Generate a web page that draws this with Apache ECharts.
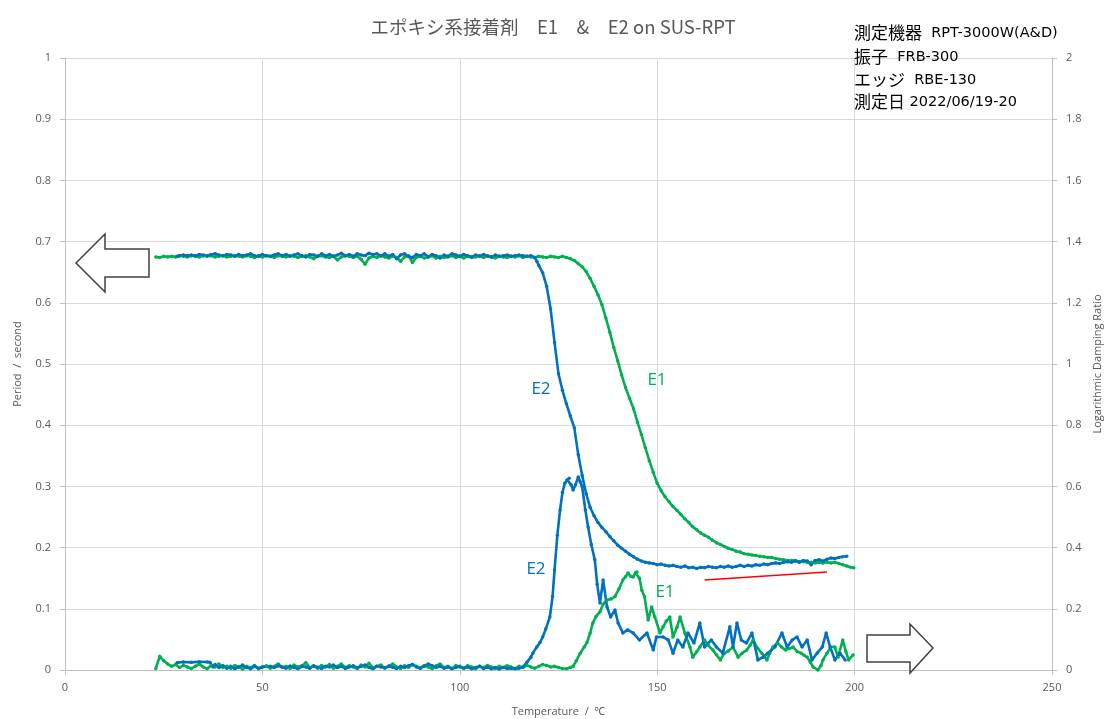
<!DOCTYPE html>
<html>
<head>
<meta charset="utf-8">
<script src="https://cdn.jsdelivr.net/npm/echarts@6/dist/echarts.min.js"></script>
<style>
  html, body { margin: 0; padding: 0; background: #ffffff; overflow: hidden; width: 100%; height: 100%; }
  #chart { position: absolute; left: 0; top: 0; width: 1106px; height: 719px; }
</style>
</head>
<body>
<div id="chart"></div>
<script>
// ---- Measured data: temperature (℃) and values ----
// E1 period (s)
const e1PeriodTemp = [23,24,25,26,27,28,29,30,31,32,33,34,35,36,37,38,39,40,41,42,43,44,45,46,47,48,49,50,51,52,53,54,55,56,57,58,59,60,61,62,63,64,65,66,67,68,69,70,71,72,73,74,75,76,77,78,79,80,81,82,83,84,85,86,87,88,89,90,91,92,93,94,95,96,97,98,99,100,101,102,103,104,105,106,107,108,109,110,111,112,113,114,115,116,117,118,119,120,121,122,123,124,125,126,127,128,129,130,131,132,133,134,135,136,137,138,139,140,141,142,143,144,145,146,147,148,149,150,151,152,153,154,155,156,157,158,159,160,161,162,163,164,165,166,167,168,169,170,171,172,173,174,175,176,177,178,179,180,181,182,183,184,185,186,187,188,189,190,191,192,193,194,195,196,197,198,199,199.8];
const e1Period = [.675,.674,.676,.675,.676,.675,.677,.676,.675,.677,.676,.675,.677,.676,.677,.675,.676,.677,.675,.676,.677,.676,.675,.677,.676,.674,.677,.675,.677,.676,.674,.677,.676,.675,.677,.676,.674,.676,.677,.675,.672,.676,.677,.675,.674,.676,.670,.675,.677,.676,.674,.676,.671,.663,.673,.676,.674,.677,.675,.673,.676,.674,.668,.675,.677,.666,.674,.676,.673,.675,.677,.673,.676,.674,.675,.677,.674,.676,.673,.676,.674,.675,.677,.674,.676,.675,.673,.676,.675,.674,.676,.675,.677,.674,.676,.675,.674,.676,.675,.674,.676,.675,.674,.676,.674,.672,.669,.664,.659,.651,.640,.627,.613,.597,.575,.552,.527,.505,.482,.461,.444,.427,.405,.385,.363,.342,.323,.305,.293,.283,.275,.267,.261,.254,.247,.241,.234,.229,.224,.220,.217,.212,.208,.205,.202,.199,.197,.194,.193,.190,.189,.188,.187,.186,.185,.184,.184,.182,.181,.180,.179,.179,.179,.177,.177,.176,.176,.175,.176,.175,.176,.175,.176,.174,.172,.170,.168,.167];

// E2 period (s)
const e2PeriodTemp = [28.4,29,30,31,32,33,34,35,36,37,38,39,40,41,42,43,44,45,46,47,48,49,50,51,52,53,54,55,56,57,58,59,60,61,62,63,64,65,66,67,68,69,70,71,72,73,74,75,76,77,78,79,80,81,82,83,84,85,86,87,88,89,90,91,92,93,94,95,96,97,98,99,100,101,102,103,104,105,106,107,108,109,110,111,112,113,114,115,116,117,118,119,119.5,120,121,122,123,124,125,126,127,128,129,130,131,132,133,134,135,136,137,138,139,140,141,142,143,144,145,146,147,148,149,150,151,152,153,154,155,156,157,158,159,160,161,162,163,164,165,166,167,168,169,170,171,172,173,174,175,176,177,178,179,180,181,182,183,184,185,186,187,188,189,190,191,192,193,194,195,196,197,198];
const e2Period = [.676,.677,.678,.677,.678,.677,.679,.678,.677,.679,.680,.678,.677,.679,.678,.676,.679,.677,.678,.680,.677,.676,.679,.677,.676,.678,.680,.677,.679,.676,.678,.680,.677,.675,.679,.678,.676,.680,.677,.679,.676,.678,.681,.677,.679,.676,.680,.678,.677,.681,.679,.680,.677,.680,.676,.679,.672,.678,.680,.676,.674,.679,.677,.680,.675,.679,.677,.673,.678,.676,.680,.678,.676,.679,.677,.675,.678,.676,.679,.677,.675,.678,.676,.677,.678,.676,.677,.678,.677,.676,.677,.674,.668,.661,.649,.627,.590,.535,.484,.457,.435,.415,.396,.352,.318,.288,.266,.252,.241,.233,.226,.218,.211,.204,.199,.194,.189,.185,.181,.178,.176,.175,.174,.172,.173,.171,.170,.171,.169,.168,.170,.167,.168,.166,.168,.167,.169,.168,.167,.169,.168,.170,.168,.169,.171,.169,.171,.170,.172,.171,.173,.172,.174,.175,.174,.176,.177,.176,.178,.176,.179,.178,.172,.179,.180,.178,.181,.183,.182,.184,.185,.186];

// E1 logarithmic damping ratio
const e1DampTemp = [23,24,25,26,27,28,29,30,31,32,33,34,35,36,37,38,39,40,41,42,43,44,45,46,47,48,49,50,51,52,53,54,55,56,57,58,59,60,61,62,63,64,65,66,67,68,69,70,71,72,73,74,75,76,77,78,79,80,81,82,83,84,85,86,87,88,89,90,91,92,93,94,95,96,97,98,99,100,101,102,103,104,105,106,107,108,109,110,111,112,113,114,115,116,117,118,119,120,121,122,123,124,125,126,127,128,128.7,129.5,130.5,131.5,132.2,133,133.7,134.5,135.5,136.3,137.3,138.3,139.3,140.3,141.3,142,142.6,143.3,143.9,144.5,144.9,145.5,146.1,146.8,147.7,148.6,149.4,150.7,151.5,152.3,153.2,154,155,155.8,157,158.3,159,160,160.8,162,163,164.1,165,166,167,168,169.2,170.5,171.5,172.7,173.5,174.3,175.5,176.5,177.8,178.5,179.3,180.5,181.5,182.5,183.5,184.4,185.5,186.5,187.2,188,188.8,189.5,190.7,191.5,192,193,194,195,195.8,197,197.8,198.5,199.6];
const e1Damp = [.005,.045,.030,.020,.012,.018,.008,.015,.010,.005,.012,.020,.010,.004,.015,.010,.020,.008,.012,.005,.015,.010,.003,.012,.008,.015,.004,.010,.014,.006,.012,.020,.008,.012,.005,.016,.010,.014,.024,.008,.012,.006,.015,.010,.018,.006,.012,.020,.008,.014,.010,.005,.016,.010,.022,.008,.012,.016,.006,.012,.020,.010,.005,.014,.008,.018,.012,.006,.015,.010,.004,.014,.020,.008,.012,.005,.015,.010,.006,.014,.010,.004,.012,.008,.015,.010,.006,.012,.008,.014,.010,.005,.012,.008,.015,.010,.006,.012,.018,.015,.010,.012,.008,.005,.004,.008,.012,.030,.055,.075,.090,.120,.154,.175,.190,.215,.229,.232,.240,.265,.294,.305,.317,.306,.304,.318,.320,.300,.261,.239,.163,.206,.173,.121,.141,.160,.173,.108,.140,.173,.121,.075,.042,.060,.075,.098,.080,.065,.050,.033,.055,.062,.075,.042,.055,.065,.080,.098,.070,.055,.033,.055,.075,.088,.075,.065,.070,.075,.060,.055,.048,.042,.025,.010,.000,.015,.033,.055,.075,.075,.042,.098,.060,.033,.049];

// E2 logarithmic damping ratio
const e2DampTemp = [28.4,30,32,34,36,36.7,37.5,38,39,40,41,42,43,44,45,46,47,48,49,50,52,53,54,55,56,57,58,59,60,61,62,63,64,65,66,67,68,69,70,71,72,73,74,75,76,77,78,79,80,81,82,83,84,85,86,87,88,89,90,91,92,93,94,95,96,97,98,99,100,101,102,103,104,105,106,107,108,109,110,111,112,113,114,115,116,117,118,118.5,119.5,120.3,121,121.8,122.8,123.5,124,124.7,125.4,126,126.6,127.2,127.7,128.2,128.7,129.3,130,130.5,131,131.8,132.5,133.3,134.2,134.8,135.5,136.3,137.3,138.2,139.3,140.1,141.3,142.5,143.9,145.5,147.4,149,149.8,151.5,152.8,154,155.2,156.5,157.8,159.3,160.8,162,163.7,165,166.6,168.4,169.2,170.2,171.3,172.6,174,175.5,176.8,178,179.8,181.6,182.9,184.2,185.4,186.7,188,189.2,190.5,191.8,192.8,193.8,195,196.3,197.6];
const e2Damp = [.024,.026,.025,.027,.026,.025,.010,.018,.008,.014,.006,.012,.004,.010,.016,.008,.004,.012,.006,.010,.012,.008,.014,.010,.006,.013,.008,.004,.012,.010,.006,.014,.009,.005,.012,.010,.016,.008,.012,.005,.010,.014,.007,.012,.016,.008,.004,.012,.010,.007,.013,.009,.005,.012,.008,.014,.018,.010,.006,.012,.020,.014,.008,.012,.006,.010,.004,.008,.012,.006,.010,.004,.008,.012,.005,.009,.004,.007,.003,.008,.005,.006,.004,.006,.010,.025,.042,.055,.075,.090,.108,.135,.173,.240,.327,.440,.523,.580,.610,.622,.627,.605,.588,.605,.631,.615,.598,.523,.467,.410,.360,.280,.219,.294,.206,.173,.196,.154,.121,.131,.121,.098,.121,.065,.108,.108,.098,.055,.098,.075,.121,.088,.154,.075,.098,.075,.055,.141,.075,.154,.098,.088,.121,.033,.042,.055,.075,.121,.075,.098,.108,.075,.098,.033,.055,.075,.121,.075,.033,.055,.033];

// Reference slope line (period axis)
const refLineTemp = [162, 193];
const refLineValue = [0.147, 0.160];

const notes = [
  ['測定機器', 'RPT-3000W(A&D)'],
  ['振子', 'FRB-300'],
  ['エッジ', 'RBE-130'],
  ['測定日', '2022/06/19-20']
];

const BLUE = '#0070C0';
const GREEN = '#00B050';
const FONT = '"Open Sans", "Noto Sans", "Noto Sans CJK JP", sans-serif';
const JP = '"Noto Sans CJK JP", sans-serif';
const NOTE_LATIN = '"DejaVu Sans", "Noto Sans", sans-serif';

const zip = (xs, ys) => xs.map((x, i) => [x, ys[i]]);

const chart = echarts.init(document.getElementById('chart'), null, { renderer: 'canvas', width: 1106, height: 719 });

function lineSeries(name, data, color, yAxisIndex) {
  return {
    name, type: 'line', data, yAxisIndex,
    showSymbol: true, showAllSymbol: true,
    symbol: 'circle', symbolSize: 3.5,
    itemStyle: { color },
    lineStyle: { color, width: 2.6 },
    silent: true
  };
}

const axisLabelStyle = { color: '#595959', fontSize: 11, fontFamily: FONT };
const axisNameStyle = { color: '#595959', fontSize: 11, fontFamily: FONT };

chart.setOption({
  animation: false,
  backgroundColor: '#ffffff',
  title: {
    text: 'エポキシ系接着剤　E1　&　E2 on SUS-RPT',
    left: 'center', top: 13,
    textStyle: { color: '#595959', fontSize: 18.5, fontWeight: 'normal', fontFamily: JP }
  },
  grid: { left: 65, right: 54, top: 58, bottom: 49, containLabel: false, outerBoundsMode: 'none' },
  xAxis: {
    type: 'value', min: 0, max: 250, interval: 50,
    name: 'Temperature  /  ℃', nameLocation: 'middle', nameGap: 36,
    nameTextStyle: axisNameStyle,
    axisLine: { show: true, lineStyle: { color: '#bfbfbf' } },
    axisTick: { show: true, length: 5, lineStyle: { color: '#bfbfbf' } },
    axisLabel: Object.assign({ margin: 12 }, axisLabelStyle),
    splitLine: { show: true, lineStyle: { color: '#d9d9d9' } }
  },
  yAxis: [
    {
      type: 'value', min: 0, max: 1, interval: 0.1, position: 'left',
      name: 'Period  /  second', nameLocation: 'middle', nameGap: 42, nameRotate: 90,
      nameTextStyle: axisNameStyle,
      axisLine: { show: true, lineStyle: { color: '#bfbfbf' } },
      axisTick: { show: true, length: 5, lineStyle: { color: '#bfbfbf' } },
      axisLabel: Object.assign({ margin: 14 }, axisLabelStyle),
      splitLine: { show: true, lineStyle: { color: '#d9d9d9' } }
    },
    {
      type: 'value', min: 0, max: 2, interval: 0.2, position: 'right',
      name: 'Logarithmic Damping Ratio', nameLocation: 'middle', nameGap: 40, nameRotate: 90,
      nameTextStyle: axisNameStyle,
      axisLine: { show: true, lineStyle: { color: '#bfbfbf' } },
      axisTick: { show: true, length: 5, lineStyle: { color: '#bfbfbf' } },
      axisLabel: Object.assign({ margin: 14 }, axisLabelStyle),
      splitLine: { show: false }
    }
  ],
  series: [
    lineSeries('E1 period', zip(e1PeriodTemp, e1Period), GREEN, 0),
    lineSeries('E1 damping', zip(e1DampTemp, e1Damp), GREEN, 1),
    lineSeries('E2 damping', zip(e2DampTemp, e2Damp), BLUE, 1),
    lineSeries('E2 period', zip(e2PeriodTemp, e2Period), BLUE, 0),
    {
      name: 'slope', type: 'line', yAxisIndex: 0, silent: true,
      data: zip(refLineTemp, refLineValue), showSymbol: false,
      lineStyle: { color: '#ff0000', width: 1.5 }
    }
  ],
  graphic: [
    // left-pointing block arrow (period axis)
    {
      type: 'polygon', z: 100,
      shape: { points: [[76,263],[105,234],[105,249],[149,249],[149,277],[105,277],[105,292]] },
      style: { fill: '#ffffff', stroke: '#404040', lineWidth: 1.5 }
    },
    // right-pointing block arrow (damping axis)
    {
      type: 'polygon', z: 100,
      shape: { points: [[933,648],[910,624],[910,635],[867,635],[867,662],[910,662],[910,673]] },
      style: { fill: '#ffffff', stroke: '#404040', lineWidth: 1.5 }
    },
    // curve labels
    { type: 'text', z: 100, x: 541, y: 389, style: { text: 'E2', fill: BLUE, font: '17px ' + FONT, align: 'center', verticalAlign: 'middle' } },
    { type: 'text', z: 100, x: 657, y: 380, style: { text: 'E1', fill: GREEN, font: '17px ' + FONT, align: 'center', verticalAlign: 'middle' } },
    { type: 'text', z: 100, x: 536, y: 569, style: { text: 'E2', fill: BLUE, font: '17px ' + FONT, align: 'center', verticalAlign: 'middle' } },
    { type: 'text', z: 100, x: 665, y: 592, style: { text: 'E1', fill: GREEN, font: '17px ' + FONT, align: 'center', verticalAlign: 'middle' } }
  ].concat(notes.map((n, i) => ({
    type: 'text', z: 100, x: 854, y: [33, 57, 80, 102][i],
    style: {
      text: '{j|' + n[0] + '}{e|' + (i === 3 ? ' ' : '  ') + n[1] + '}',
      verticalAlign: 'middle',
      rich: {
        j: { fontFamily: JP, fontSize: 17, fill: '#000000', fontWeight: 'normal' },
        e: { fontFamily: NOTE_LATIN, fontSize: 14.5, fill: '#000000' }
      }
    }
  })))
});
</script>
</body>
</html>
